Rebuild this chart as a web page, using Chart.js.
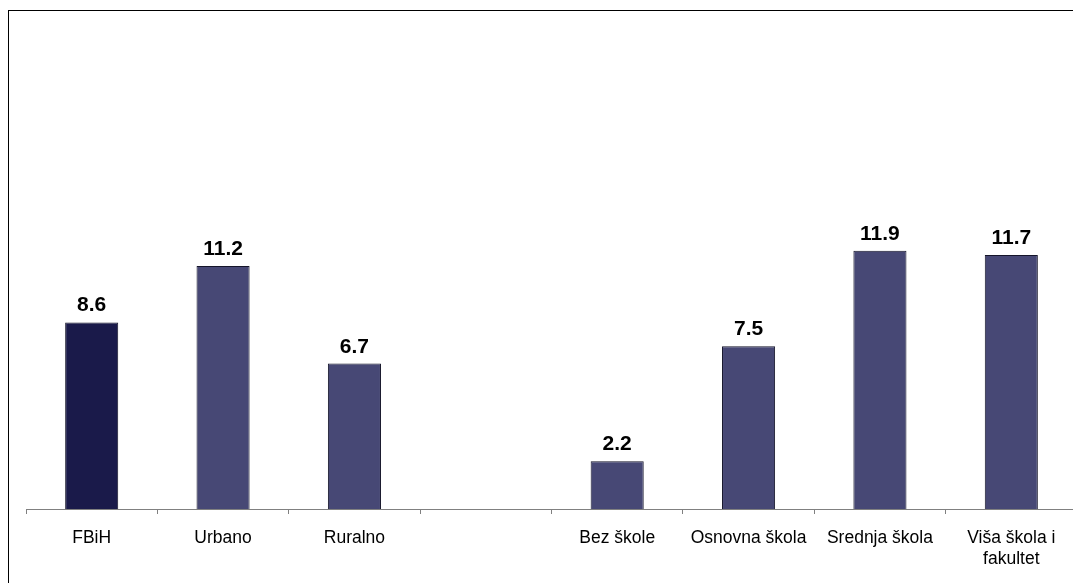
<!DOCTYPE html>
<html>
<head>
<meta charset="utf-8">
<script src="https://cdn.jsdelivr.net/npm/chart.js@4"></script>
<style>
    html, body { margin: 0; padding: 0; background: #fff; overflow: hidden; }
    #wrap { position: relative; width: 1073px; height: 583px; overflow: hidden; }
    #frame {
        position: absolute; left: 8px; top: 10px;
        width: 1100px; height: 620px;
        border-left: 1px solid #000; border-top: 1px solid #000;
        pointer-events: none;
    }
    canvas { position: absolute; left: 0; top: 0; }
</style>
</head>
<body>
<div id="wrap">
    <canvas id="chart" width="1080" height="583"></canvas>
    <div id="frame"></div>
</div>
<script>
// ===================================
// DATA
// ===================================
const categories = ['FBiH', 'Urbano', 'Ruralno', '', 'Bez škole', 'Osnovna škola', 'Srednja škola', ['Viša škola i', 'fakultet']];
const values = [8.6, 11.2, 6.7, null, 2.2, 7.5, 11.9, 11.7];
const barColors = ['#1a1a4a', '#474875', '#474875', '#474875', '#474875', '#474875', '#474875', '#474875'];

const FONT = "Arial, 'Liberation Sans', sans-serif";

// Bold value labels above each bar
const valueLabels = {
    id: 'valueLabels',
    afterDatasetsDraw(chart) {
        const ctx = chart.ctx;
        const meta = chart.getDatasetMeta(0);
        ctx.save();
        ctx.font = 'bold 21px ' + FONT;
        ctx.fillStyle = '#000';
        ctx.textAlign = 'center';
        ctx.textBaseline = 'alphabetic';
        meta.data.forEach((bar, i) => {
            if (values[i] === null) return;
            ctx.fillText(values[i].toFixed(1), bar.x, bar.y - 11);
        });
        ctx.restore();
    }
};

new Chart(document.getElementById('chart').getContext('2d'), {
    type: 'bar',
    data: {
        labels: categories,
        datasets: [{
            data: values,
            backgroundColor: barColors,
            borderColor: '#15152a',
            borderWidth: 1,
            categoryPercentage: 1,
            barPercentage: 0.404
        }]
    },
    options: {
        responsive: false,
        animation: false,
        layout: { padding: { left: 26, right: 3, top: 75, bottom: 0 } },
        plugins: {
            legend: { display: false },
            tooltip: { enabled: false }
        },
        scales: {
            y: {
                display: false,
                min: 0,
                max: 20
            },
            x: {
                offset: true,
                border: { display: true, color: '#808080', width: 1 },
                grid: {
                    offset: true,
                    drawOnChartArea: false,
                    drawTicks: true,
                    tickLength: 5,
                    color: '#808080'
                },
                ticks: {
                    color: '#000',
                    padding: 14,
                    maxRotation: 0,
                    autoSkip: false,
                    font: { family: FONT, size: 17.5 }
                },
                afterFit(scale) { scale.height = 74; }
            }
        }
    },
    plugins: [valueLabels]
});
</script>
</body>
</html>
